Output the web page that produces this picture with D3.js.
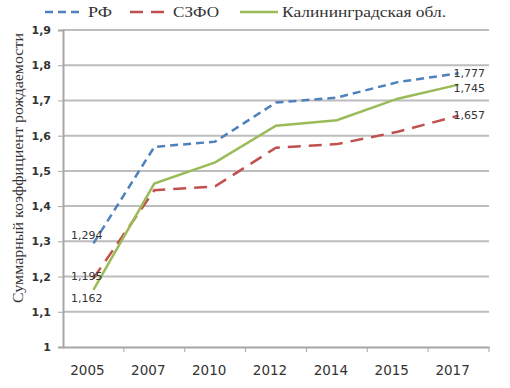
<!DOCTYPE html>
<html>
<head>
<meta charset="utf-8">
<script src="https://cdn.jsdelivr.net/npm/d3@7"></script>
<style>
  body { margin: 0; background: #fff; }
  .tick text { fill: #333; font-family: "DejaVu Sans", Verdana, sans-serif; }
</style>
</head>
<body>
<div id="chart"></div>
<script>
// data
var years = ["2005", "2007", "2010", "2012", "2014", "2015", "2017"];
var rf = [1.294, 1.568, 1.583, 1.694, 1.708, 1.752, 1.777];
var szfo = [1.195, 1.445, 1.456, 1.566, 1.576, 1.611, 1.657];
var kal = [1.162, 1.464, 1.524, 1.628, 1.644, 1.705, 1.745];
var yTicks = [1, 1.1, 1.2, 1.3, 1.4, 1.5, 1.6, 1.7, 1.8, 1.9];

var svgWidth = 510;
var svgHeight = 388;
var margin = { top: 30, right: 21, bottom: 41, left: 63 };
var width = svgWidth - margin.left - margin.right;
var height = svgHeight - margin.top - margin.bottom;

var svg = d3.select("#chart")
  .append("svg")
  .attr("width", svgWidth)
  .attr("height", svgHeight);

var chartGroup = svg.append("g")
  .attr("transform", `translate(${margin.left}, ${margin.top})`);

var xScale = d3.scaleBand().domain(years).range([0, width]);
var yScale = d3.scaleLinear().domain([1, 1.9]).range([height, 0]);

var fmt = function(d) { return d3.format(".1f")(d).replace(".", ",").replace(",0", ""); };

// gridlines
chartGroup.append("g")
  .selectAll("line")
  .data(yTicks.slice(1))
  .enter()
  .append("line")
  .attr("x1", 0)
  .attr("x2", width)
  .attr("y1", d => yScale(d))
  .attr("y2", d => yScale(d))
  .attr("stroke", "#bdbdbd")
  .attr("stroke-width", 2);

// y axis
var leftAxis = d3.axisLeft(yScale).tickValues(yTicks).tickSize(5).tickFormat(fmt);
var yAxis = chartGroup.append("g").call(leftAxis);
yAxis.select(".domain").attr("stroke", "#a6a6a6").attr("stroke-width", 2);
yAxis.selectAll(".tick line").attr("stroke", "#a6a6a6");
yAxis.selectAll("text").attr("font-size", 11).attr("font-weight", "bold").attr("x", -12);

// x axis
var bottomAxis = d3.axisBottom(xScale).tickSize(0);
var xAxis = chartGroup.append("g")
  .attr("transform", `translate(0, ${height})`)
  .call(bottomAxis);
xAxis.select(".domain").attr("stroke", "#a6a6a6").attr("stroke-width", 2);
xAxis.selectAll("text")
  .attr("font-size", 13.5)
  .attr("x", -6)
  .attr("y", 28)
  .attr("dy", 0);

// x tick marks at band borders
chartGroup.append("g")
  .selectAll("line")
  .data(years)
  .enter()
  .append("line")
  .attr("x1", d => xScale(d) + xScale.bandwidth())
  .attr("x2", d => xScale(d) + xScale.bandwidth())
  .attr("y1", height)
  .attr("y2", height + 5)
  .attr("stroke", "#a6a6a6");

// y axis title
svg.append("text")
  .attr("transform", "rotate(-90)")
  .attr("x", -168)
  .attr("y", 23)
  .attr("text-anchor", "middle")
  .attr("font-family", "Liberation Serif, Times New Roman, serif")
  .attr("font-size", 15)
  .attr("textLength", 270)
  .attr("lengthAdjust", "spacingAndGlyphs")
  .attr("fill", "#333")
  .text("Суммарный коэффициент рождаемости");

var series = [
  { name: "РФ", values: rf, color: "#4f81bd", dash: "8,5" },
  { name: "СЗФО", values: szfo, color: "#c0504d", dash: "13,8" },
  { name: "Калининградская обл.", values: kal, color: "#9bbb59", dash: null }
];

var line = d3.line()
  .x((d, i) => xScale(years[i]) + xScale.bandwidth() / 2)
  .y(d => yScale(d));

series.forEach(function(s) {
  chartGroup.append("path")
    .datum(s.values)
    .attr("fill", "none")
    .attr("stroke", s.color)
    .attr("stroke-width", 2.5)
    .attr("stroke-dasharray", s.dash)
    .attr("d", line);
});

// data labels on first and last points
var labelFont = "DejaVu Sans, Verdana, sans-serif";
var firstOffsets = [-8, -2, 8];
series.forEach(function(s, k) {
  var n = s.values.length;
  chartGroup.append("text")
    .attr("x", xScale(years[0]) + xScale.bandwidth() / 2 + 9)
    .attr("y", yScale(s.values[0]) + firstOffsets[k])
    .attr("dy", "0.35em")
    .attr("text-anchor", "end")
    .attr("font-family", labelFont)
    .attr("font-size", 11)
    .attr("fill", "#333")
    .text(String(s.values[0]).replace(".", ","));
  chartGroup.append("text")
    .attr("x", xScale(years[n - 1]) + xScale.bandwidth() / 2 - 5)
    .attr("y", yScale(s.values[n - 1]) + (k === 2 ? 4 : 0))
    .attr("dy", "0.35em")
    .attr("font-family", labelFont)
    .attr("font-size", 11)
    .attr("fill", "#333")
    .text(String(s.values[n - 1]).replace(".", ","));
});

// legend
var legendPos = [45, 130, 240];
var legendWidths = [24, 46, 164];
var legend = svg.append("g");
series.forEach(function(s, k) {
  legend.append("line")
    .attr("x1", legendPos[k])
    .attr("x2", legendPos[k] + 38)
    .attr("y1", 12)
    .attr("y2", 12)
    .attr("stroke", s.color)
    .attr("stroke-width", 2.5)
    .attr("stroke-dasharray", s.dash);
  legend.append("text")
    .attr("x", legendPos[k] + (k === 2 ? 42 : 43))
    .attr("y", 12)
    .attr("dy", "0.35em")
    .attr("font-family", "Liberation Serif, Times New Roman, serif")
    .attr("font-size", 15)
    .attr("textLength", legendWidths[k])
    .attr("lengthAdjust", "spacingAndGlyphs")
    .attr("fill", "#333")
    .text(s.name);
});
</script>
</body>
</html>
